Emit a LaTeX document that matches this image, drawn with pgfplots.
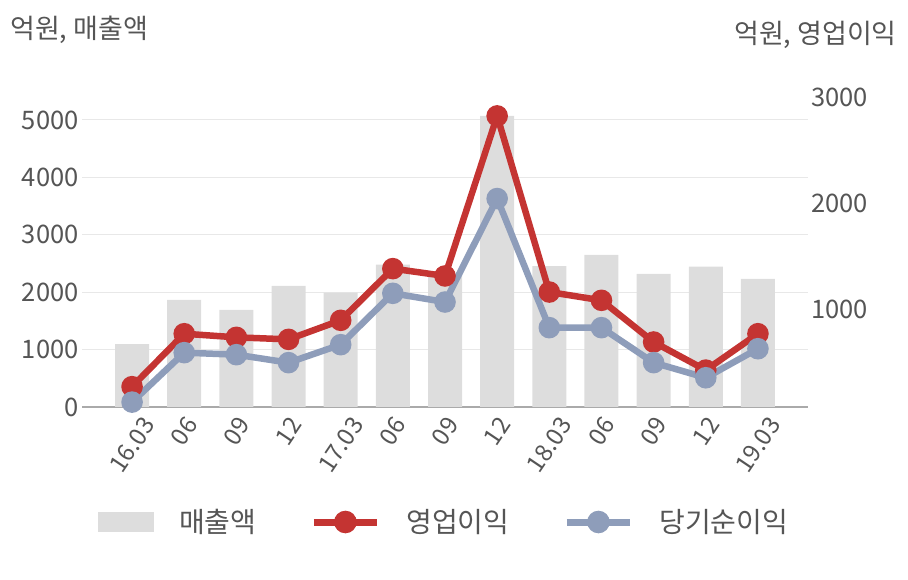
\documentclass[border=0pt]{standalone}
\usepackage{graphicx}
\usepackage{pgfplots}
\pgfplotsset{compat=1.18}
\usepackage{fontspec}
\setmainfont{Noto Sans CJK KR}
\definecolor{barc}{HTML}{DDDDDD}
\definecolor{redc}{HTML}{C43432}
\definecolor{bluec}{HTML}{8E9DBA}
\definecolor{gridc}{HTML}{E8E8E8}
\definecolor{axisc}{HTML}{AAAAAA}
\definecolor{txtc}{HTML}{555555}
\newcommand{\rl}[1]{\rotatebox{56}{#1}}
\begin{document}
\begin{tikzpicture}[x=1pt,y=1pt]
\useasboundingbox (0,0) rectangle (908,580);
\begin{axis}[
  at={(82pt,173pt)}, anchor=south west, scale only axis,
  width=726pt, height=310pt,
  xmin=-0.96, xmax=12.96, ymin=0, ymax=5400,
  axis x line*=bottom, axis y line*=left,
  x axis line style={-, draw=axisc, line width=1.2pt},
  y axis line style={draw=none},
  major tick length=0pt,
  ytick={0,1000,2000,3000,4000,5000},
  ymajorgrids, grid style={draw=gridc, line width=1pt},
  xtick={0,...,12},
  xticklabels={\rl{16.03},\rl{06},\rl{09},\rl{12},\rl{17.03},\rl{06},\rl{09},\rl{12},\rl{18.03},\rl{06},\rl{09},\rl{12},\rl{19.03}},
  xticklabel style={anchor=north, inner sep=0pt, font=\fontsize{24}{24}\selectfont, text=txtc, yshift=-8pt},
  yticklabel style={font=\fontsize{25.5}{25.5}\selectfont, text=txtc},
  /pgf/number format/assume math mode=true,
  scaled y ticks=false,
  yticklabel={\pgfmathprintnumber[fixed,1000 sep={}]{\tick}},
]
\addplot[ybar, bar width=34pt, fill=barc, draw=none] coordinates {
(0,1097) (1,1864) (2,1690) (3,2108) (4,1991) (5,2479) (6,2300) (7,5069) (8,2456) (9,2648) (10,2317) (11,2444) (12,2230)};
\end{axis}
\begin{axis}[
  at={(82pt,173pt)}, anchor=south west, scale only axis,
  width=726pt, height=310pt,
  xmin=-0.96, xmax=12.96, ymin=85, ymax=3000,
  axis x line=none, axis y line*=right,
  y axis line style={draw=none},
  major tick length=0pt,
  ytick={1000,2000,3000},
  yticklabel style={font=\fontsize{25.5}{25.5}\selectfont, text=txtc, anchor=west},
  /pgf/number format/assume math mode=true,
  scaled y ticks=false,
  yticklabel={\pgfmathprintnumber[fixed,1000 sep={}]{\tick}},
  legend columns=3,
  legend style={at={(0.4986,-0.371)}, anchor=center, draw=none, fill=none,
    font=\fontsize{28}{28}\selectfont, text=txtc,
    /tikz/every odd column/.append style={column sep=24pt},
    /tikz/every even column/.append style={column sep=52pt}},
]
\addlegendimage{legend image code/.code={\fill[barc] (0pt,-9.5pt) rectangle (55pt,9.5pt);}}
\addlegendentry{매출액}
\addplot[redc, line width=6.5pt, mark=*, mark size=7.5pt, mark options={solid},
  legend image code/.code={\draw[line width=7pt, redc] (0pt,0pt) -- (63pt,0pt); \fill[redc] (31.5pt,0pt) circle (8pt);}]
coordinates {(0,276) (1,774) (2,740) (3,721) (4,900) (5,1386) (6,1317) (7,2822) (8,1166) (9,1088) (10,696) (11,432) (12,774)};
\addlegendentry{영업이익}
\addplot[bluec, line width=6.5pt, mark=*, mark size=7.5pt, mark options={solid},
  legend image code/.code={\draw[line width=7pt, bluec] (0pt,0pt) -- (63pt,0pt); \fill[bluec] (31.5pt,0pt) circle (8pt);}]
coordinates {(0,131) (1,596) (2,577) (3,502) (4,671) (5,1154) (6,1072) (7,2045) (8,831) (9,831) (10,502) (11,360) (12,633)};
\addlegendentry{당기순이익}
\end{axis}
\node[anchor=west, font=\fontsize{27}{27}\selectfont, text=txtc, inner sep=0pt] at (10,550) {억원, 매출액};
\node[anchor=east, font=\fontsize{27}{27}\selectfont, text=txtc, inner sep=0pt] at (897,545) {억원, 영업이익};
\end{tikzpicture}
\end{document}
